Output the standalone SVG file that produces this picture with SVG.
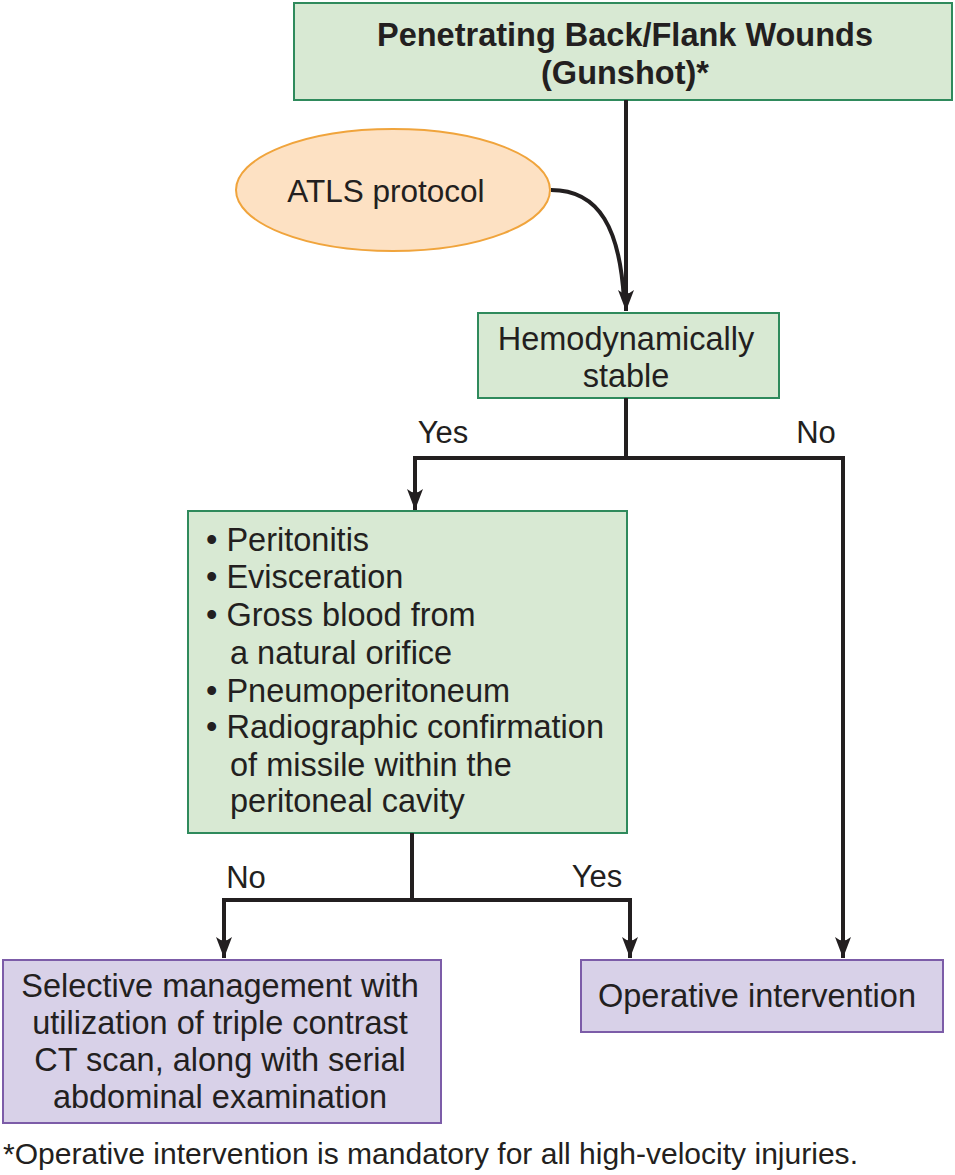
<svg xmlns="http://www.w3.org/2000/svg" width="955" height="1175" viewBox="0 0 955 1175">
<style>
.g{fill:#d8e9d3;stroke:#2f8a5c;stroke-width:2}
.o{fill:#fde1c3;stroke:#f0a43c;stroke-width:2}
.p{fill:#d8d1e8;stroke:#7c5ca8;stroke-width:2}
text{font-family:"Liberation Sans",Arial,sans-serif;fill:#231f20;font-size:32.5px}
.c{text-anchor:middle}
.b{font-weight:bold;font-size:32.5px}
.l{font-size:31px}
.f{font-size:29px}
.e{fill:none;stroke:#231f20;stroke-width:4}
</style>
<defs>
<marker id="ah" markerWidth="22" markerHeight="18" viewBox="-21 -9 22 18" refX="0" refY="0" orient="auto" markerUnits="userSpaceOnUse">
<path d="M0,0 L-21,-8 Q-14,0 -21,8 Z" fill="#231f20"/>
</marker>
</defs>
<rect width="955" height="1175" fill="#ffffff"/>
<g id="n-top">
<rect class="g" x="294" y="3" width="658" height="97"/>
<text class="c b" x="625" y="46">Penetrating Back/Flank Wounds</text>
<text class="c b" x="625" y="84">(Gunshot)*</text>
</g>
<g id="n-atls">
<ellipse class="o" cx="393" cy="190" rx="157" ry="61"/>
<text class="c" x="386" y="202" style="font-size:31.5px">ATLS protocol</text>
</g>
<g id="n-hemo">
<rect class="g" x="478" y="313" width="301" height="85"/>
<text class="c" x="626" y="350">Hemodynamically</text>
<text class="c" x="626" y="387">stable</text>
</g>
<g id="n-criteria">
<rect class="g" x="188" y="511" width="439" height="322"/>
<text x="206" y="551">• Peritonitis</text>
<text x="206" y="588">• Evisceration</text>
<text x="206" y="626">• Gross blood from</text>
<text x="230" y="664">a natural orifice</text>
<text x="206" y="702">• Pneumoperitoneum</text>
<text x="206" y="738">• Radiographic confirmation</text>
<text x="230" y="776">of missile within the</text>
<text x="230" y="812">peritoneal cavity</text>
</g>
<g id="n-selective">
<rect class="p" x="3" y="960" width="438" height="163"/>
<text class="c" x="220" y="997">Selective management with</text>
<text class="c" x="220" y="1034">utilization of triple contrast</text>
<text class="c" x="220" y="1071">CT scan, along with serial</text>
<text class="c" x="220" y="1108">abdominal examination</text>
</g>
<g id="n-operative">
<rect class="p" x="581" y="960" width="362" height="72"/>
<text class="c" x="757" y="1007">Operative intervention</text>
</g>
<g id="connectors">
<path class="e" d="M626,100 V311" marker-end="url(#ah)"/>
<path class="e" d="M551,190 C600,190 620,230 624,300"/>
<path class="e" d="M626,398 V458 M413,458 H843"/>
<path class="e" d="M415,456 V510" marker-end="url(#ah)"/>
<path class="e" d="M843,456 V958" marker-end="url(#ah)"/>
<path class="e" d="M412,833 V900 M222,900 H632"/>
<path class="e" d="M224,898 V958" marker-end="url(#ah)"/>
<path class="e" d="M630,898 V958" marker-end="url(#ah)"/>
<text class="c l" x="443" y="443">Yes</text>
<text class="c l" x="816" y="443">No</text>
<text class="c l" x="246" y="888">No</text>
<text class="c l" x="597" y="887">Yes</text>
</g>
<text class="f" x="3" y="1164" textLength="855" lengthAdjust="spacingAndGlyphs">*Operative intervention is mandatory for all high-velocity injuries.</text>
</svg>
